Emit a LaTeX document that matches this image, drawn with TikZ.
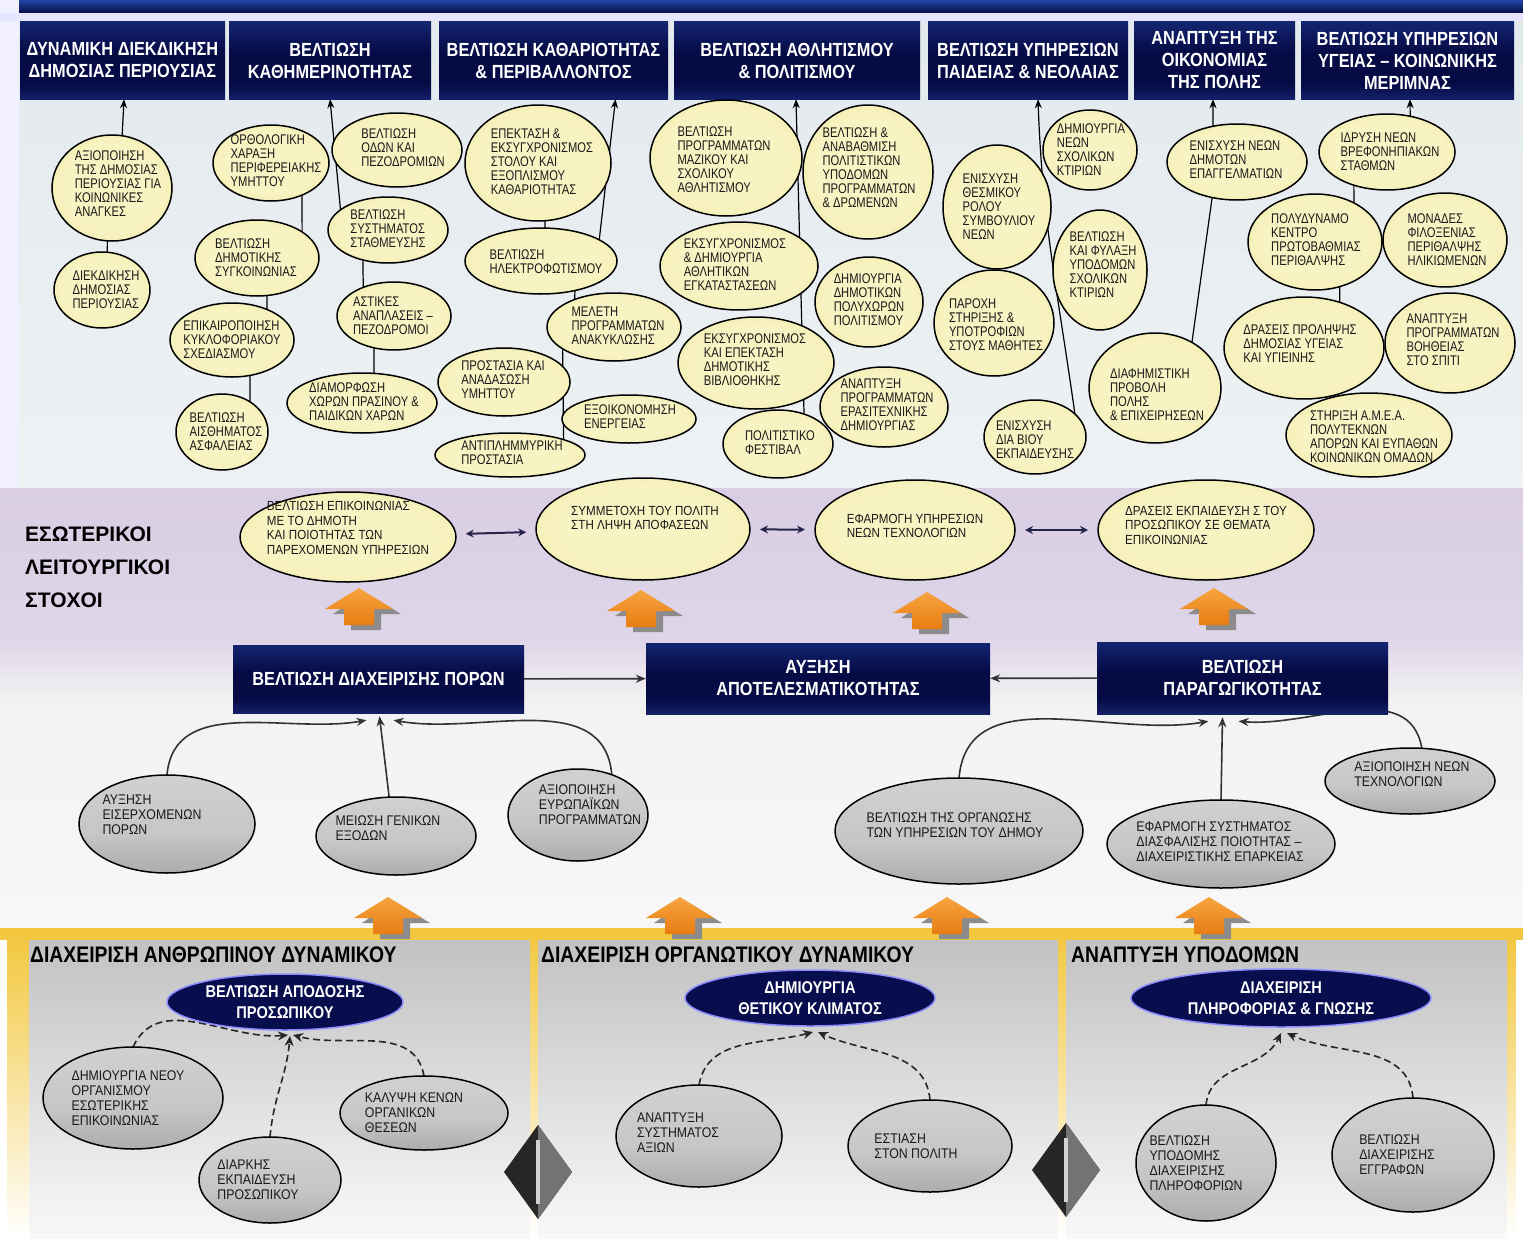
\documentclass[tikz,border=0pt]{standalone}
\usepackage{fontspec}
\setmainfont{Liberation Sans}
\newfontfamily\cf{Liberation Sans}[FakeStretch=0.88]
\newfontfamily\cfn{Liberation Sans}[FakeStretch=0.8]
\newfontfamily\hf{Liberation Sans}[FakeStretch=0.86]
\usetikzlibrary{arrows.meta,shapes.geometric}
\definecolor{yc1}{HTML}{F8F3C2}
\definecolor{yc2}{HTML}{F0E69E}
\definecolor{yc3}{HTML}{D8CB70}
\definecolor{gb1}{HTML}{F4F4F4}
\definecolor{gb2}{HTML}{9C9C9C}
\definecolor{gb3}{HTML}{C6C6C6}
\definecolor{gb4}{HTML}{DADADA}
\definecolor{nv1}{HTML}{080D4E}
\definecolor{nv2}{HTML}{2F4FBF}
\definecolor{hb1}{HTML}{3556C0}
\definecolor{hb2}{HTML}{060B45}
\definecolor{hb3}{HTML}{2445A8}
\definecolor{orA}{HTML}{F7A540}
\definecolor{orB}{HTML}{E87C12}
\definecolor{osh}{HTML}{8C8C8C}
\definecolor{lav}{HTML}{D9CEE4}
\definecolor{topbg}{HTML}{E2E9ED}
\definecolor{dblc}{HTML}{25254A}
\definecolor{ybor}{HTML}{F2C63A}
\pgfdeclareradialshading{yelsh}{\pgfpoint{0bp}{0bp}}{color(0bp)=(yc1); color(20bp)=(yc1); color(38bp)=(yc2); color(50bp)=(yc3)}
\pgfdeclareradialshading{navsh}{\pgfpoint{0bp}{0bp}}{color(0bp)=(nv1); color(30bp)=(nv1); color(50bp)=(nv2)}
\pgfdeclareverticalshading{grsh}{100bp}{color(0bp)=(gb1); color(12bp)=(gb2); color(45bp)=(gb3); color(100bp)=(gb4)}
\pgfdeclareverticalshading{hdsh}{100bp}{color(0bp)=(hb1); color(35bp)=(hb2); color(55bp)=(hb2); color(100bp)=(hb3)}
\pgfdeclarelayer{back}
\pgfdeclarelayer{bg}
\pgfsetlayers{back,bg,main}
% ellipse: style, name, cx, cy, rx, ry, text x, text y, text  (y measured downwards)
\newcommand\MyEl[9]{%
  \node[#1, minimum width={2*#5}, minimum height={2*#6}] (#2) at (#3,-#4) {};
  \node[#1txt] (#2t) at (#7,-#8) {#9};}
\newcommand\OrAr[2]{%
  \fill[osh] (#1+6,-#2-4) -- (#1+42,-#2-26) -- (#1+22,-#2-26) -- (#1+22,-#2-42) -- (#1-8,-#2-42) -- (#1-8,-#2-26) -- (#1-26,-#2-26) -- cycle;
  \shade[top color=orA, bottom color=orB] (#1,-#2) -- (#1+34,-#2-21) -- (#1+15,-#2-21) -- (#1+15,-#2-37) -- (#1-15,-#2-37) -- (#1-15,-#2-21) -- (#1-34,-#2-21) -- cycle;}
\newcommand\DiaM[2]{%
  \fill[black!85] (#1,-#2+47) -- (#1+34,-#2) -- (#1,-#2-47) -- (#1-34,-#2) -- cycle;
  \fill[black!55] (#1,-#2+47) -- (#1+34,-#2) -- (#1,-#2-47) -- cycle;
  \fill[gray!35] (#1-2,-#2+32) rectangle (#1+2,-#2-32);}
\begin{document}
\begin{tikzpicture}[x=1pt,y=1pt,
  yel/.style={ellipse, draw=black, line width=1.5pt, shade, shading=yelsh, inner sep=0pt, outer sep=0pt},
  mid/.style={yel},
  gry/.style={ellipse, draw=black, line width=1.5pt, shade, shading=grsh, inner sep=0pt, outer sep=0pt},
  nav/.style={ellipse, draw=white!55!blue, line width=1.5pt, shade, shading=navsh, inner sep=0pt, outer sep=0pt},
  yeltxt/.style={font=\cfn\fontsize{14}{14}\selectfont, align=left, inner sep=0pt, text=black!90},
  midtxt/.style={font=\cf\fontsize{13.2}{14.5}\selectfont, align=left, inner sep=0pt, text=black!90},
  grytxt/.style={font=\cf\fontsize{14}{15}\selectfont, align=left, inner sep=0pt, text=black!90},
  navtxt/.style={font=\hf\bfseries\fontsize{17}{21}\selectfont, align=center, inner sep=0pt, text=white},
  hdr/.style={rectangle, shade, shading=hdsh, draw=none, text=white, inner sep=0pt, align=center, font=\hf\bfseries\fontsize{19}{22}\selectfont},
  bbox/.style={hdr, font=\hf\bfseries\fontsize{19}{22}\selectfont},
  conn/.style={draw=black, line width=1.2pt},
  upar/.style={conn, -{Stealth[length=9pt,width=7pt]}},
  dbl/.style={draw=dblc, line width=2pt, {Stealth[length=8pt,width=8pt]}-{Stealth[length=8pt,width=8pt]}, shorten >=10pt, shorten <=10pt},
  gar/.style={draw=black!80, line width=1.6pt, -{Stealth[length=10pt,width=8pt]}},
  dsh/.style={draw=black!85, line width=1.6pt, dash pattern=on 7pt off 4pt, -{Stealth[length=10pt,width=9pt]}},
  lbl/.style={font=\bfseries\fontsize{21}{33}\selectfont, align=left, inner sep=0pt},
  ttl/.style={font=\hf\bfseries\fontsize{22.5}{24}\selectfont, inner sep=0pt, anchor=west}
]
\useasboundingbox (0,0) rectangle (1523,-1239);
% ---------------- backgrounds
\begin{pgfonlayer}{back}
\fill[white] (0,0) rectangle (1523,-1239);
\shade[top color=topbg, bottom color=topbg!60!white] (0,0) rectangle (1523,-488);
\fill[white!94!blue] (0,0) rectangle (19,-488);
\shade[top color=hb3, bottom color=hb2] (19,0) rectangle (1523,-13);
\fill[white!90!blue] (0,-13) rectangle (1523,-21);
\shade[top color=lav, bottom color=lav!85!white] (0,-488) rectangle (1523,-640);
\shade[top color=lav!85!white, bottom color=gray!10] (0,-640) rectangle (1523,-700);
\shade[top color=gray!10, bottom color=gray!6] (0,-700) rectangle (1523,-930);
\shade[top color=ybor, bottom color=white] (0,-928) rectangle (1523,-1239);
\fill[white] (0,-940) rectangle (7,-1239);
\fill[white] (1516,-940) rectangle (1523,-1239);
\shade[top color=gray!48, bottom color=gray!5] (29,-940) rectangle (530,-1239);
\shade[top color=gray!48, bottom color=gray!5] (538,-940) rectangle (1058,-1239);
\shade[top color=gray!48, bottom color=gray!5] (1066,-940) rectangle (1507,-1239);
\end{pgfonlayer}
% ---------------- headers
\node[hdr, minimum width=205, minimum height=77] (H1) at (122.5,-60.5) {ΔΥΝΑΜΙΚΗ ΔΙΕΚΔΙΚΗΣΗ\\ΔΗΜΟΣΙΑΣ ΠΕΡΙΟΥΣΙΑΣ};
\node[hdr, minimum width=202, minimum height=77] (H2) at (330,-60.5) {ΒΕΛΤΙΩΣΗ\\ΚΑΘΗΜΕΡΙΝΟΤΗΤΑΣ};
\node[hdr, minimum width=229, minimum height=77] (H3) at (553.5,-60.5) {ΒΕΛΤΙΩΣΗ ΚΑΘΑΡΙΟΤΗΤΑΣ\\\& ΠΕΡΙΒΑΛΛΟΝΤΟΣ};
\node[hdr, minimum width=246, minimum height=77] (H4) at (797,-60.5) {ΒΕΛΤΙΩΣΗ ΑΘΛΗΤΙΣΜΟΥ\\\& ΠΟΛΙΤΙΣΜΟΥ};
\node[hdr, minimum width=200, minimum height=77] (H5) at (1028,-60.5) {ΒΕΛΤΙΩΣΗ ΥΠΗΡΕΣΙΩΝ\\ΠΑΙΔΕΙΑΣ \& ΝΕΟΛΑΙΑΣ};
\node[hdr, minimum width=161, minimum height=77] (H6) at (1214.5,-60.5) {ΑΝΑΠΤΥΞΗ ΤΗΣ\\ΟΙΚΟΝΟΜΙΑΣ\\ΤΗΣ ΠΟΛΗΣ};
\node[hdr, minimum width=213, minimum height=77] (H7) at (1407.5,-60.5) {ΒΕΛΤΙΩΣΗ ΥΠΗΡΕΣΙΩΝ\\ΥΓΕΙΑΣ – ΚΟΙΝΩΝΙΚΗΣ\\ΜΕΡΙΜΝΑΣ};
% ---------------- top yellow ellipses
\MyEl{yel}{E1a}{112}{188}{60}{53}{118}{184}{ΑΞΙΟΠΟΙΗΣΗ\\ΤΗΣ ΔΗΜΟΣΙΑΣ\\ΠΕΡΙΟΥΣΙΑΣ ΓΙΑ\\ΚΟΙΝΩΝΙΚΕΣ\\ΑΝΑΓΚΕΣ}
\MyEl{yel}{E1b}{102}{290}{48}{38}{106}{290}{ΔΙΕΚΔΙΚΗΣΗ\\ΔΗΜΟΣΙΑΣ\\ΠΕΡΙΟΥΣΙΑΣ}
\MyEl{yel}{E2a}{271}{163}{58}{38}{276}{161}{ΟΡΘΟΛΟΓΙΚΗ\\ΧΑΡΑΞΗ\\ΠΕΡΙΦΕΡΕΙΑΚΗΣ\\ΥΜΗΤΤΟΥ}
\MyEl{yel}{E2b}{397}{150}{65}{37}{403}{148}{ΒΕΛΤΙΩΣΗ\\ΟΔΩΝ ΚΑΙ\\ΠΕΖΟΔΡΟΜΙΩΝ}
\MyEl{yel}{E2c}{388}{230}{60}{33}{388}{229}{ΒΕΛΤΙΩΣΗ\\ΣΥΣΤΗΜΑΤΟΣ\\ΣΤΑΘΜΕΥΣΗΣ}
\MyEl{yel}{E2d}{257}{258}{62}{38}{256}{258}{ΒΕΛΤΙΩΣΗ\\ΔΗΜΟΤΙΚΗΣ\\ΣΥΓΚΟΙΝΩΝΙΑΣ}
\MyEl{yel}{E2e}{232}{340}{62}{37}{232}{340}{ΕΠΙΚΑΙΡΟΠΟΙΗΣΗ\\ΚΥΚΛΟΦΟΡΙΑΚΟΥ\\ΣΧΕΔΙΑΣΜΟΥ}
\MyEl{yel}{E2f}{394}{316}{57}{34}{393}{316}{ΑΣΤΙΚΕΣ\\ΑΝΑΠΛΑΣΕΙΣ –\\ΠΕΖΟΔΡΟΜΟΙ}
\MyEl{yel}{E2g}{362}{403}{75}{30}{364}{402}{ΔΙΑΜΟΡΦΩΣΗ\\ΧΩΡΩΝ ΠΡΑΣΙΝΟΥ \&\\ΠΑΙΔΙΚΩΝ ΧΑΡΩΝ}
\MyEl{yel}{E2h}{222}{432}{46}{38}{226}{432}{ΒΕΛΤΙΩΣΗ\\ΑΙΣΘΗΜΑΤΟΣ\\ΑΣΦΑΛΕΙΑΣ}
\MyEl{yel}{E3a}{538}{163}{73}{58}{542}{162}{ΕΠΕΚΤΑΣΗ \&\\ΕΚΣΥΓΧΡΟΝΙΣΜΟΣ\\ΣΤΟΛΟΥ ΚΑΙ\\ΕΞΟΠΛΙΣΜΟΥ\\ΚΑΘΑΡΙΟΤΗΤΑΣ}
\MyEl{yel}{E3b}{541}{261}{76}{33}{546}{262}{ΒΕΛΤΙΩΣΗ\\ΗΛΕΚΤΡΟΦΩΤΙΣΜΟΥ}
\MyEl{yel}{E3c}{614}{327}{67}{34}{618}{326}{ΜΕΛΕΤΗ\\ΠΡΟΓΡΑΜΜΑΤΩΝ\\ΑΝΑΚΥΚΛΩΣΗΣ}
\MyEl{yel}{E3d}{504}{382}{66}{34}{503}{380}{ΠΡΟΣΤΑΣΙΑ ΚΑΙ\\ΑΝΑΔΑΣΩΣΗ\\ΥΜΗΤΤΟΥ}
\MyEl{yel}{E3e}{629}{419}{67}{24}{630}{417}{ΕΞΟΙΚΟΝΟΜΗΣΗ\\ΕΝΕΡΓΕΙΑΣ}
\MyEl{yel}{E3f}{510}{455}{75}{22}{512}{453}{ΑΝΤΙΠΛΗΜΜΥΡΙΚΗ\\ΠΡΟΣΤΑΣΙΑ}
\MyEl{yel}{E4a}{726}{158}{76}{58}{724}{160}{ΒΕΛΤΙΩΣΗ\\ΠΡΟΓΡΑΜΜΑΤΩΝ\\ΜΑΖΙΚΟΥ ΚΑΙ\\ΣΧΟΛΙΚΟΥ\\ΑΘΛΗΤΙΣΜΟΥ}
\MyEl{yel}{E4b}{739}{266}{79}{44}{735}{265}{ΕΚΣΥΓΧΡΟΝΙΣΜΟΣ\\\& ΔΗΜΙΟΥΡΓΙΑ\\ΑΘΛΗΤΙΚΩΝ\\ΕΓΚΑΤΑΣΤΑΣΕΩΝ}
\MyEl{yel}{E4c}{756}{363}{78}{46}{755}{360}{ΕΚΣΥΓΧΡΟΝΙΣΜΟΣ\\ΚΑΙ ΕΠΕΚΤΑΣΗ\\ΔΗΜΟΤΙΚΗΣ\\ΒΙΒΛΙΟΘΗΚΗΣ}
\MyEl{yel}{E4d}{778}{444}{55}{34}{780}{443}{ΠΟΛΙΤΙΣΤΙΚΟ\\ΦΕΣΤΙΒΑΛ}
\MyEl{yel}{E4e}{868}{172}{65}{67}{869}{168}{ΒΕΛΤΙΩΣΗ \&\\ΑΝΑΒΑΘΜΙΣΗ\\ΠΟΛΙΤΙΣΤΙΚΩΝ\\ΥΠΟΔΟΜΩΝ\\ΠΡΟΓΡΑΜΜΑΤΩΝ\\\& ΔΡΩΜΕΝΩΝ}
\MyEl{yel}{E4f}{869}{302}{54}{45}{869}{300}{ΔΗΜΙΟΥΡΓΙΑ\\ΔΗΜΟΤΙΚΩΝ\\ΠΟΛΥΧΩΡΩΝ\\ΠΟΛΙΤΙΣΜΟΥ}
\MyEl{yel}{E4g}{884}{407}{64}{40}{887}{405}{ΑΝΑΠΤΥΞΗ\\ΠΡΟΓΡΑΜΜΑΤΩΝ\\ΕΡΑΣΙΤΕΧΝΙΚΗΣ\\ΔΗΜΙΟΥΡΓΙΑΣ}
\MyEl{yel}{E5a}{997}{207}{54}{62}{999}{207}{ΕΝΙΣΧΥΣΗ\\ΘΕΣΜΙΚΟΥ\\ΡΟΛΟΥ\\ΣΥΜΒΟΥΛΙΟΥ\\ΝΕΩΝ}
\MyEl{yel}{E5b}{1090}{150}{47}{40}{1091}{150}{ΔΗΜΙΟΥΡΓΙΑ\\ΝΕΩΝ\\ΣΧΟΛΙΚΩΝ\\ΚΤΙΡΙΩΝ}
\MyEl{yel}{E5c}{1100}{270}{47}{60}{1103}{265}{ΒΕΛΤΙΩΣΗ\\ΚΑΙ ΦΥΛΑΞΗ\\ΥΠΟΔΟΜΩΝ\\ΣΧΟΛΙΚΩΝ\\ΚΤΙΡΙΩΝ}
\MyEl{yel}{E5d}{994}{323}{60}{53}{996}{325}{ΠΑΡΟΧΗ\\ΣΤΗΡΙΞΗΣ \&\\ΥΠΟΤΡΟΦΙΩΝ\\ΣΤΟΥΣ ΜΑΘΗΤΕΣ}
\MyEl{yel}{E5e}{1035}{437}{51}{37}{1035}{440}{ΕΝΙΣΧΥΣΗ\\ΔΙΑ ΒΙΟΥ\\ΕΚΠΑΙΔΕΥΣΗΣ}
\MyEl{yel}{E6a}{1237}{162}{70}{38}{1236}{160}{ΕΝΙΣΧΥΣΗ ΝΕΩΝ\\ΔΗΜΟΤΩΝ\\ΕΠΑΓΓΕΛΜΑΤΙΩΝ}
\MyEl{yel}{E6b}{1155}{388}{66}{55}{1157}{395}{ΔΙΑΦΗΜΙΣΤΙΚΗ\\ΠΡΟΒΟΛΗ\\ΠΟΛΗΣ\\\& ΕΠΙΧΕΙΡΗΣΕΩΝ}
\MyEl{yel}{E7a}{1387}{152}{68}{38}{1390}{152}{ΙΔΡΥΣΗ ΝΕΩΝ\\ΒΡΕΦΟΝΗΠΙΑΚΩΝ\\ΣΤΑΘΜΩΝ}
\MyEl{yel}{E7b}{1315}{242}{67}{48}{1316}{240}{ΠΟΛΥΔΥΝΑΜΟ\\ΚΕΝΤΡΟ\\ΠΡΩΤΟΒΑΘΜΙΑΣ\\ΠΕΡΙΘΑΛΨΗΣ}
\MyEl{yel}{E7c}{1445}{240}{62}{47}{1447}{240}{ΜΟΝΑΔΕΣ\\ΦΙΛΟΞΕΝΙΑΣ\\ΠΕΡΙΘΑΛΨΗΣ\\ΗΛΙΚΙΩΜΕΝΩΝ}
\MyEl{yel}{E7d}{1304}{348}{80}{51}{1300}{344}{ΔΡΑΣΕΙΣ ΠΡΟΛΗΨΗΣ\\ΔΗΜΟΣΙΑΣ ΥΓΕΙΑΣ\\ΚΑΙ ΥΓΙΕΙΝΗΣ}
\MyEl{yel}{E7e}{1450}{343}{65}{50}{1453}{340}{ΑΝΑΠΤΥΞΗ\\ΠΡΟΓΡΑΜΜΑΤΩΝ\\ΒΟΗΘΕΙΑΣ\\ΣΤΟ ΣΠΙΤΙ}
\MyEl{yel}{E7f}{1369}{435}{83}{42}{1374}{437}{ΣΤΗΡΙΞΗ Α.Μ.Ε.Α.\\ΠΟΛΥΤΕΚΝΩΝ\\ΑΠΟΡΩΝ ΚΑΙ ΕΥΠΑΘΩΝ\\ΚΟΙΝΩΝΙΚΩΝ ΟΜΑΔΩΝ}
% ---------------- middle band
\node[lbl, anchor=west] (LBL) at (25,-567) {ΕΣΩΤΕΡΙΚΟΙ\\ΛΕΙΤΟΥΡΓΙΚΟΙ\\ΣΤΟΧΟΙ};
\MyEl{mid}{M1}{348}{537}{108}{45}{348}{528}{ΒΕΛΤΙΩΣΗ ΕΠΙΚΟΙΝΩΝΙΑΣ\\ΜΕ ΤΟ ΔΗΜΟΤΗ\\ΚΑΙ ΠΟΙΟΤΗΤΑΣ ΤΩΝ\\ΠΑΡΕΧΟΜΕΝΩΝ ΥΠΗΡΕΣΙΩΝ}
\MyEl{mid}{M2}{643}{529}{107}{51}{645}{518}{ΣΥΜΜΕΤΟΧΗ ΤΟΥ ΠΟΛΙΤΗ\\ΣΤΗ ΛΗΨΗ ΑΠΟΦΑΣΕΩΝ}
\MyEl{mid}{M3}{915}{530}{100}{50}{915}{526}{ΕΦΑΡΜΟΓΗ ΥΠΗΡΕΣΙΩΝ\\ΝΕΩΝ ΤΕΧΝΟΛΟΓΙΩΝ}
\MyEl{mid}{M4}{1206}{530}{108}{50}{1206}{525}{ΔΡΑΣΕΙΣ ΕΚΠΑΙΔΕΥΣΗ Σ ΤΟΥ\\ΠΡΟΣΩΠΙΚΟΥ ΣΕ ΘΕΜΑΤΑ\\ΕΠΙΚΟΙΝΩΝΙΑΣ}
\OrAr{359}{588}
\OrAr{641}{590}
\OrAr{927}{592}
\OrAr{1214}{588}
% ---------------- blue boxes
\node[bbox, minimum width=291, minimum height=68] (B1) at (378.5,-679) {ΒΕΛΤΙΩΣΗ ΔΙΑΧΕΙΡΙΣΗΣ ΠΟΡΩΝ};
\node[bbox, minimum width=344, minimum height=71] (B2) at (818,-678.5) {ΑΥΞΗΣΗ\\ΑΠΟΤΕΛΕΣΜΑΤΙΚΟΤΗΤΑΣ};
\node[bbox, minimum width=291, minimum height=72] (B3) at (1242.5,-678) {ΒΕΛΤΙΩΣΗ\\ΠΑΡΑΓΩΓΙΚΟΤΗΤΑΣ};
% ---------------- grey ellipses
\MyEl{gry}{G1}{167}{824}{88}{49}{152}{815}{ΑΥΞΗΣΗ\\ΕΙΣΕΡΧΟΜΕΝΩΝ\\ΠΟΡΩΝ}
\MyEl{gry}{G2}{396}{836}{80}{39}{388}{828}{ΜΕΙΩΣΗ ΓΕΝΙΚΩΝ\\ΕΞΟΔΩΝ}
\MyEl{gry}{G3}{578}{815}{70}{46}{590}{805}{ΑΞΙΟΠΟΙΗΣΗ\\ΕΥΡΩΠΑΪΚΩΝ\\ΠΡΟΓΡΑΜΜΑΤΩΝ}
\MyEl{gry}{G4}{959}{831}{124}{53}{955}{825}{ΒΕΛΤΙΩΣΗ ΤΗΣ ΟΡΓΑΝΩΣΗΣ\\ΤΩΝ ΥΠΗΡΕΣΙΩΝ ΤΟΥ ΔΗΜΟΥ}
\MyEl{gry}{G5}{1221}{844}{114}{44}{1220}{842}{ΕΦΑΡΜΟΓΗ ΣΥΣΤΗΜΑΤΟΣ\\ΔΙΑΣΦΑΛΙΣΗΣ ΠΟΙΟΤΗΤΑΣ –\\ΔΙΑΧΕΙΡΙΣΤΙΚΗΣ ΕΠΑΡΚΕΙΑΣ}
\MyEl{gry}{G6}{1410}{781}{85}{33}{1412}{774}{ΑΞΙΟΠΟΙΗΣΗ ΝΕΩΝ\\ΤΕΧΝΟΛΟΓΙΩΝ}
\OrAr{388}{897}
\OrAr{680}{897}
\OrAr{947}{897}
\OrAr{1209}{897}
% ---------------- bottom panels
\node[ttl] (T1) at (30,-955) {ΔΙΑΧΕΙΡΙΣΗ ΑΝΘΡΩΠΙΝΟΥ ΔΥΝΑΜΙΚΟΥ};
\node[ttl] (T2) at (541,-955) {ΔΙΑΧΕΙΡΙΣΗ ΟΡΓΑΝΩΤΙΚΟΥ ΔΥΝΑΜΙΚΟΥ};
\node[ttl] (T3) at (1071,-955) {ΑΝΑΠΤΥΞΗ ΥΠΟΔΟΜΩΝ};
\MyEl{nav}{D1}{285}{1002}{118}{28}{285}{1002}{ΒΕΛΤΙΩΣΗ ΑΠΟΔΟΣΗΣ\\ΠΡΟΣΩΠΙΚΟΥ}
\MyEl{nav}{D2}{810}{998}{125}{28}{810}{998}{ΔΗΜΙΟΥΡΓΙΑ\\ΘΕΤΙΚΟΥ ΚΛΙΜΑΤΟΣ}
\MyEl{nav}{D3}{1281}{998}{150}{29}{1281}{998}{ΔΙΑΧΕΙΡΙΣΗ\\ΠΛΗΡΟΦΟΡΙΑΣ \& ΓΝΩΣΗΣ}
\MyEl{gry}{P1a}{133}{1098}{90}{51}{128}{1098}{ΔΗΜΙΟΥΡΓΙΑ ΝΕΟΥ\\ΟΡΓΑΝΙΣΜΟΥ\\ΕΣΩΤΕΡΙΚΗΣ\\ΕΠΙΚΟΙΝΩΝΙΑΣ}
\MyEl{gry}{P1b}{270}{1180}{71}{43}{258}{1180}{ΔΙΑΡΚΗΣ\\ΕΚΠΑΙΔΕΥΣΗ\\ΠΡΟΣΩΠΙΚΟΥ}
\MyEl{gry}{P1c}{424}{1113}{84}{37}{414}{1113}{ΚΑΛΥΨΗ ΚΕΝΩΝ\\ΟΡΓΑΝΙΚΩΝ\\ΘΕΣΕΩΝ}
\MyEl{gry}{P2a}{699}{1136}{83}{51}{678}{1133}{ΑΝΑΠΤΥΞΗ\\ΣΥΣΤΗΜΑΤΟΣ\\ΑΞΙΩΝ}
\MyEl{gry}{P2b}{930}{1146}{82}{46}{916}{1146}{ΕΣΤΙΑΣΗ\\ΣΤΟΝ ΠΟΛΙΤΗ}
\MyEl{gry}{P3a}{1206}{1163}{70}{58}{1196}{1163}{ΒΕΛΤΙΩΣΗ\\ΥΠΟΔΟΜΗΣ\\ΔΙΑΧΕΙΡΙΣΗΣ\\ΠΛΗΡΟΦΟΡΙΩΝ}
\MyEl{gry}{P3b}{1413}{1155}{81}{57}{1397}{1155}{ΒΕΛΤΙΩΣΗ\\ΔΙΑΧΕΙΡΙΣΗΣ\\ΕΓΓΡΑΦΩΝ}
\DiaM{538}{1172}
\DiaM{1066}{1170}
% ---------------- connectors
\begin{pgfonlayer}{bg}
\draw[upar] (E1a.79) -- ([xshift=1.5pt]H1.south);
\draw[conn] (E1b.82) -- (E1a.265);
\draw[upar] (E2c.157) -- (H2.south);
\draw[conn] (E2a.314) -- (E2d.30);
\draw[conn] (E2d.285) -- (E2e.41);
\draw[conn] (E2e.297) -- (E2h.47);
\draw[conn] (E2c.230) -- (E2f.137);
\draw[conn] (E2f.238) -- (E2g.68);
\draw[upar] (E3b.20) -- ([xshift=62pt]H3.south);
\draw[conn] (E3a.277) -- (E3b.83);
\draw[conn] (E3b.319) -- (E3c.145);
\draw[conn] (E3c.203) -- (E3f.16);
\draw[upar] (E4d.49) -- ([xshift=-1pt]H4.south);
\draw[upar] (E5e.30) to[out=98,in=-88] ([xshift=10pt]H5.south);
\draw[upar] (E6a.124) -- ([xshift=-1.5pt]H6.south);
\draw[conn] (E6a.235) -- (E6b.51);
\draw[upar] (E7a.57) -- ([xshift=2.5pt]H7.south);
\draw[conn] (E7a.225) -- (E7b.45);
\draw[conn] (E7b.299) -- (E7d.52);
\draw[conn] (E7d.304) -- (E7f.131);
\draw[dbl] (M1) -- (M2);
\draw[dbl] (M2) -- (M3);
\draw[dbl] (M3) -- (M4);
\draw[gar] (B1) -- (B2);
\draw[gar] (B3) -- (B2);
\draw[gar] (G1.north) to[out=85,in=190] ([xshift=-12pt,yshift=-7pt]B1.south);
\draw[gar] (G2.100) -- ([xshift=1pt,yshift=-3pt]B1.south);
\draw[gar] (G3.50) to[out=95,in=-10] ([xshift=15pt,yshift=-7pt]B1.south);
\draw[gar] (G4.north) to[out=85,in=190] ([xshift=-34pt,yshift=-7pt]B3.south);
\draw[gar] (G5.north) -- ([xshift=-20pt,yshift=-3pt]B3.south);
\draw[gar] (G6.70) to[out=100,in=-5] ([xshift=-4pt,yshift=-7pt]B3.south);
\draw[dsh] (P1a.north) to[out=65,in=185] ([xshift=3pt,yshift=-5pt]D1.south);
\draw[dsh] (P1b.north) to[out=85,in=-95] ([xshift=5pt,yshift=-6pt]D1.south);
\draw[dsh] (P1c.north) to[out=100,in=-15] ([xshift=8pt,yshift=-5pt]D1.south);
\draw[dsh] (P2a.north) to[out=80,in=195] ([xshift=3pt,yshift=-6pt]D2.south);
\draw[dsh] (P2b.north) to[out=95,in=-25] ([xshift=8pt,yshift=-6pt]D2.south);
\draw[dsh] (P3a.north) to[out=85,in=-115] ([xshift=0pt,yshift=-6pt]D3.south);
\draw[dsh] (P3b.north) to[out=95,in=-25] ([xshift=6pt,yshift=-6pt]D3.south);
\end{pgfonlayer}
\end{tikzpicture}
\end{document}
